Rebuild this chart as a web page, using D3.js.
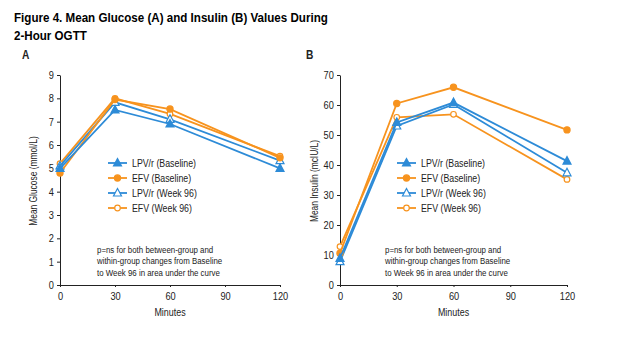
<!DOCTYPE html>
<html>
<head>
<meta charset="utf-8">
<script src="https://cdn.jsdelivr.net/npm/d3@7"></script>
<style>
  body { margin: 0; background: #fff; }
  svg { display: block; }
  .narrow { font-family: "Liberation Sans", Arial, sans-serif; fill: #222; }
  .title { font-family: "Liberation Sans", Arial, sans-serif; font-weight: bold; }
  .axis path, .axis line { stroke: #222; }
  .axis text { font-family: "Liberation Sans", Arial, sans-serif; font-size: 10.5px; fill: #222; }
</style>
</head>
<body>
<div id="chart"></div>
<script>
const minutes = [0, 30, 60, 120];
const xTicks = [0, 30, 60, 90, 120];
const seriesNames = ['LPV/r (Baseline)', 'EFV (Baseline)', 'LPV/r (Week 96)', 'EFV (Week 96)'];

const glucoseLpvBase = [5.0, 7.5, 6.9, 5.0];
const glucoseEfvBase = [4.8, 7.95, 7.54, 5.45];
const glucoseLpvWk96 = [5.1, 7.83, 7.1, 5.33];
const glucoseEfvWk96 = [5.2, 8.0, 7.33, 5.52];
const glucoseTicks = [0, 1, 2, 3, 4, 5, 6, 7, 8, 9];

const insulinLpvBase = [8.9, 54.2, 60.8, 41.3];
const insulinEfvBase = [10.6, 60.5, 65.9, 51.7];
const insulinLpvWk96 = [7.8, 53.0, 60.2, 37.4];
const insulinEfvWk96 = [12.8, 55.9, 56.9, 35.2];
const insulinTicks = [0, 10, 20, 30, 40, 50, 60, 70];

const noteLines = ['p=ns for both between-group and',
  'within-group changes from Baseline',
  'to Week 96 in area under the curve'];

const blue = '#2d8bd7';
const orange = '#f7931e';
const styles = [
  { color: blue, shape: 'tri', filled: true },
  { color: orange, shape: 'dot', filled: true },
  { color: blue, shape: 'tri', filled: false },
  { color: orange, shape: 'dot', filled: false }
];

const width = 621, height = 337;
const svg = d3.select('#chart').append('svg')
  .attr('width', width).attr('height', height);

// no condensed face is installed, so squeeze the regular one
function narrowText(g, x, y, txt, size, sx, anchor, rotate) {
  return g.append('text').attr('class', 'narrow')
    .attr('transform', `translate(${x},${y})${rotate ? ' rotate(-90)' : ''} scale(${sx},1)`)
    .attr('text-anchor', anchor || 'start')
    .style('font-size', size + 'px')
    .text(txt);
}

narrowText(svg, 14, 22, 'Figure 4. Mean Glucose (A) and Insulin (B) Values During', 13.5, 0.86)
  .attr('class', 'title');
narrowText(svg, 14, 40, '2-Hour OGTT', 13.5, 0.86).attr('class', 'title');

const panels = [
  { letter: 'A', letterX: 22, x0: 60, x1: 280, yMax: 9, ticks: glucoseTicks,
    label: 'Mean Glucose (mmol/L)', labelX: 37, legendX: 108, noteX: 97,
    series: [glucoseLpvBase, glucoseEfvBase, glucoseLpvWk96, glucoseEfvWk96] },
  { letter: 'B', letterX: 306, x0: 340, x1: 567, yMax: 70, ticks: insulinTicks,
    label: 'Mean Insulin (mcIU/L)', labelX: 318, legendX: 397, noteX: 385,
    series: [insulinLpvBase, insulinEfvBase, insulinLpvWk96, insulinEfvWk96] }
];

const plotTop = 75, plotBottom = 285;

function marker(g, st, cx, cy) {
  const fill = st.filled ? st.color : '#fff';
  if (st.shape === 'tri') {
    const s = 4;
    g.append('path')
      .attr('d', `M${cx},${cy - s - 0.5}L${cx + s},${cy + s - 1}L${cx - s},${cy + s - 1}Z`)
      .attr('fill', fill).attr('stroke', st.color).attr('stroke-width', 1.2);
  } else {
    g.append('circle').attr('cx', cx).attr('cy', cy).attr('r', st.filled ? 3.1 : 2.8)
      .attr('fill', fill).attr('stroke', st.color).attr('stroke-width', 1.2);
  }
}

panels.forEach(p => {
  const x = d3.scaleLinear().domain([0, 120]).range([p.x0, p.x1]);
  const y = d3.scaleLinear().domain([0, p.yMax]).range([plotBottom, plotTop]);

  narrowText(svg, p.letterX, 59, p.letter, 12, 0.85).style('font-weight', 'bold');

  const ya = svg.append('g').attr('class', 'axis')
    .attr('transform', `translate(${p.x0},0)`)
    .call(d3.axisLeft(y).tickValues(p.ticks).tickSize(3).tickSizeOuter(0).tickPadding(4));
  ya.selectAll('.tick text').attr('transform', 'scale(0.88,1)');

  const xa = svg.append('g').attr('class', 'axis')
    .attr('transform', `translate(0,${plotBottom})`)
    .call(d3.axisBottom(x).tickValues(xTicks).tickSize(2).tickSizeOuter(0).tickPadding(6));
  xa.selectAll('.tick text').attr('transform', 'scale(0.88,1)');

  narrowText(svg, p.labelX, (plotTop + plotBottom) / 2 + 1, p.label, 10.5, 0.8, 'middle', true);
  narrowText(svg, (p.x0 + p.x1) / 2, 316, 'Minutes', 10.5, 0.85, 'middle');

  const line = d3.line().x((d, i) => x(minutes[i])).y(d => y(d));
  // week 96 first, baseline on top
  [3, 2, 1, 0].forEach(k => {
    const st = styles[k];
    const g = svg.append('g');
    g.append('path').datum(p.series[k]).attr('d', line)
      .attr('fill', 'none').attr('stroke', st.color).attr('stroke-width', 1.8);
    p.series[k].forEach((v, i) => marker(g, st, x(minutes[i]), y(v)));
  });

  const lg = svg.append('g');
  seriesNames.forEach((name, k) => {
    const st = styles[k];
    const ly = 163 + k * 15;
    lg.append('line').attr('x1', p.legendX).attr('x2', p.legendX + 19)
      .attr('y1', ly).attr('y2', ly).attr('stroke', st.color).attr('stroke-width', 1.8);
    marker(lg, st, p.legendX + 9.5, ly);
    narrowText(lg, p.legendX + 24, ly + 4, name, 11, 0.8);
  });

  noteLines.forEach((t, i) => {
    narrowText(svg, p.noteX, 253 + i * 11.3, t, 9.5, 0.83);
  });
});
</script>
</body>
</html>
